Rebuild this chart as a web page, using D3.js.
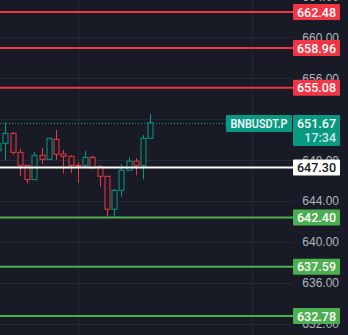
<!DOCTYPE html>
<html>
<head>
<meta charset="utf-8">
<script src="https://cdn.jsdelivr.net/npm/d3@7"></script>
<style>
  html, body { margin: 0; padding: 0; background: #181b25; }
  svg { display: block; font-family: Roboto, "Liberation Sans", sans-serif; }
</style>
</head>
<body>
<svg id="chart" width="348" height="335"></svg>
<script>
// Candles (oldest first), first one is partly cut off on the left
const opens  = [648.93, 649.65, 650.63, 648.77, 647.50, 646.10, 648.48, 648.09, 650.04, 648.61, 648.38,
                647.50, 647.50, 648.28, 647.34, 646.43, 643.21, 645.06, 647.02, 647.90, 647.50, 650.14];
const highs  = [649.90, 651.70, 650.76, 649.07, 647.50, 648.80, 649.20, 650.14, 650.95, 649.00, 648.48,
                647.83, 648.90, 648.41, 647.53, 646.43, 645.19, 647.63, 648.28, 648.19, 650.46, 652.52];
const lows   = [648.70, 647.95, 648.51, 646.46, 645.74, 646.10, 647.63, 648.09, 648.02, 646.72, 646.78,
                645.80, 647.21, 647.14, 645.41, 642.48, 642.42, 644.44, 647.02, 646.53, 646.13, 650.14];
const closes = [649.65, 650.63, 648.77, 647.50, 646.10, 648.48, 648.09, 650.14, 648.58, 648.38, 647.50,
                647.44, 648.28, 647.27, 646.43, 643.21, 645.06, 647.02, 647.90, 647.50, 650.14, 651.67];

// Horizontal levels
const resistanceLevels = [662.48, 658.96, 655.08];
const pivotLevel = 647.30;
const supportLevels = [642.40, 637.59, 632.78];

// Price axis ticks
const priceTicks = [632, 636, 640, 644, 648, 652, 656, 660, 664];
// Candle indices where the time grid lines fall
const timeGridCandles = [11, 35];

const symbol = "BNBUSDT.P";
const lastPrice = 651.67;
const countdown = "17:34";

const RED = "#f23645";
const GREEN = "#4caf50";
const TEAL = "#089981";
const BG = "#181b25";
const GRID = "#252936";

const svg = d3.select("#chart");
const plotRight = 293;

// Scales
const y = d3.scaleLinear().domain([632.78, 662.48]).range([316, 12]);
const x = d3.scaleLinear().domain([0, 21]).range([-2, 150.3]);

svg.append("rect").attr("width", 348).attr("height", 335).attr("fill", BG);

// Grid
svg.append("g").selectAll("line")
    .data(priceTicks)
    .join("line")
    .attr("x1", 0).attr("x2", plotRight)
    .attr("y1", d => Math.round(y(d)) + 0.5).attr("y2", d => Math.round(y(d)) + 0.5)
    .attr("stroke", GRID);

svg.append("g").selectAll("line")
    .data(timeGridCandles)
    .join("line")
    .attr("x1", d => Math.round(x(d)) + 0.5).attr("x2", d => Math.round(x(d)) + 0.5)
    .attr("y1", 0).attr("y2", 335)
    .attr("stroke", GRID);

// Price axis labels (right side)
const axis = d3.axisRight(y)
    .tickValues(priceTicks)
    .tickFormat(d3.format(".2f"))
    .tickSize(0)
    .tickPadding(0);

const axisG = svg.append("g").attr("transform", "translate(339,0)").call(axis);
axisG.select(".domain").remove();
axisG.selectAll("text")
    .attr("text-anchor", "end")
    .attr("fill", "#b2b5be")
    .attr("font-size", 12);

// Candles
const candles = opens.map((o, i) => ({ i, o, h: highs[i], l: lows[i], c: closes[i] }));

const candleG = svg.append("g");
candleG.selectAll("line.wick")
    .data(candles)
    .join("line")
    .attr("class", "wick")
    .attr("x1", d => Math.round(x(d.i)) + 0.5).attr("x2", d => Math.round(x(d.i)) + 0.5)
    .attr("y1", d => y(d.h)).attr("y2", d => y(d.l))
    .attr("stroke", d => d.c >= d.o ? TEAL : RED);

candleG.selectAll("rect")
    .data(candles)
    .join("rect")
    .attr("x", d => Math.round(x(d.i)) - 2)
    .attr("y", d => y(Math.max(d.o, d.c)))
    .attr("width", 5)
    .attr("height", d => Math.max(1, Math.abs(y(d.o) - y(d.c))))
    .attr("fill", BG)
    .attr("stroke", d => d.c >= d.o ? TEAL : RED)
    .attr("stroke-width", 1);

// Level lines
function drawLevel(value, color) {
    svg.append("line")
        .attr("x1", 0).attr("x2", plotRight)
        .attr("y1", y(value)).attr("y2", y(value))
        .attr("stroke", color).attr("stroke-width", 2);
}

// Label on the price axis
function drawTag(value, fill, textColor) {
    const yy = y(value);
    svg.append("rect")
        .attr("x", 293).attr("y", yy - 8)
        .attr("width", 47).attr("height", 16)
        .attr("rx", 1)
        .attr("fill", fill);
    svg.append("text")
        .attr("x", 336).attr("y", yy + 4.5)
        .attr("text-anchor", "end")
        .attr("font-size", 12.5).attr("font-weight", 500)
        .attr("fill", textColor)
        .text(value.toFixed(2));
}

resistanceLevels.forEach(v => drawLevel(v, RED));
supportLevels.forEach(v => drawLevel(v, GREEN));
drawLevel(pivotLevel, "#ffffff");

resistanceLevels.forEach(v => drawTag(v, RED, "#ffffff"));
supportLevels.forEach(v => drawTag(v, GREEN, "#ffffff"));
drawTag(pivotLevel, "#ffffff", "#131722");

// Last price line and badges
const yLast = Math.round(y(lastPrice)) + 0.5;
svg.append("line")
    .attr("x1", 0).attr("x2", 226)
    .attr("y1", yLast).attr("y2", yLast)
    .attr("stroke", TEAL).attr("stroke-width", 1)
    .attr("stroke-dasharray", "1,2");

svg.append("rect")
    .attr("x", 226).attr("y", yLast - 8.5)
    .attr("width", 66).attr("height", 17)
    .attr("rx", 1)
    .attr("fill", TEAL);
svg.append("text")
    .attr("x", 259).attr("y", yLast + 4.5)
    .attr("text-anchor", "middle")
    .attr("font-size", 12).attr("font-weight", 500)
    .attr("textLength", 57).attr("lengthAdjust", "spacingAndGlyphs")
    .attr("fill", "#ffffff")
    .text(symbol);

svg.append("rect")
    .attr("x", 293).attr("y", yLast - 8.5)
    .attr("width", 47).attr("height", 31)
    .attr("rx", 1)
    .attr("fill", TEAL);
svg.append("text")
    .attr("x", 336).attr("y", yLast + 4.5)
    .attr("text-anchor", "end")
    .attr("font-size", 12.5).attr("font-weight", 500)
    .attr("fill", "#ffffff")
    .text(lastPrice.toFixed(2));
svg.append("text")
    .attr("x", 336).attr("y", yLast + 18.5)
    .attr("text-anchor", "end")
    .attr("font-size", 12.5).attr("font-weight", 500)
    .attr("fill", "#d1ece6")
    .text(countdown);
</script>
</body>
</html>
